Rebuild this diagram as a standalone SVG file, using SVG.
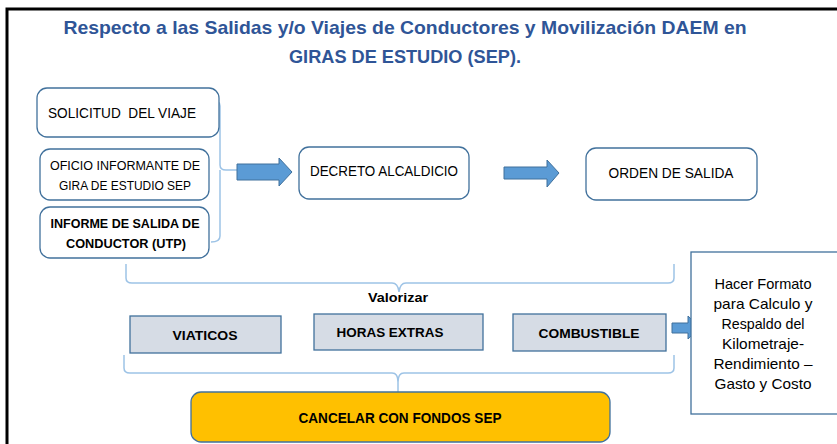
<svg xmlns="http://www.w3.org/2000/svg" width="837" height="444" viewBox="0 0 837 444">
<style>
.t{font-family:"Liberation Sans",Arial,sans-serif;fill:#000}
.title{font-family:"Liberation Sans",Arial,sans-serif;font-weight:bold;fill:#2F5597;font-size:19px}
.b{font-weight:bold}
.rb{fill:#fff;stroke:#41719C;stroke-width:1.3}
.sb{fill:#D6DCE5;stroke:#41719C;stroke-width:1.3}
.br{fill:none;stroke:#9DC3E6;stroke-width:1.5}
.ar{fill:#5B9BD5;stroke:#41719C;stroke-width:1}
</style>
<rect width="837" height="444" fill="#fff"/>
<polyline points="7,444 7,9 837,9" fill="none" stroke="#000" stroke-width="3"/>
<g id="title">
<text class="title" x="405" y="34" text-anchor="middle" textLength="683" lengthAdjust="spacingAndGlyphs">Respecto a las Salidas y/o Viajes de Conductores y Movilización DAEM en</text>
<text class="title" x="405" y="63" text-anchor="middle" textLength="232" lengthAdjust="spacingAndGlyphs">GIRAS DE ESTUDIO (SEP).</text>
</g>
<g id="connectors">
<path class="br" d="M211,100 Q220,100 220,106 L220,165 Q220,170 226,170 L237,170 M220,170 L220,236 Q220,242 211,242"/>
<path class="br" d="M126,264 L126,278 Q126,283 132,283 L392,283 Q398,283 399,292 Q400,283 406,283 L668,283 Q674,283 674,278 L674,264"/>
<path class="br" d="M124,355 L124,368 Q124,373 130,373 L392,373 Q398,373 398,382 L398,392 M398,382 Q398,373 404,373 L668,373 Q674,373 674,368 L674,355"/>
<polygon class="ar" points="237,164 279,164 279,158 292,172 279,186 279,180 237,180"/>
<polygon class="ar" points="504,167 547,167 547,160 559,173 547,187 547,179 504,179"/>
<polygon class="ar" points="672,323 688,323 688,316 700,327.5 688,339 688,333 672,333"/>
</g>
<g id="n-solicitud">
<rect class="rb" x="37" y="88" width="182" height="49" rx="10"/>
<text class="t" x="122" y="118" text-anchor="middle" font-size="14" textLength="148" lengthAdjust="spacingAndGlyphs">SOLICITUD&#160; DEL VIAJE</text>
</g>
<g id="n-oficio">
<rect class="rb" x="40" y="149" width="169" height="51" rx="10"/>
<text class="t" x="125" y="170" text-anchor="middle" font-size="12.5" textLength="150" lengthAdjust="spacingAndGlyphs">OFICIO INFORMANTE DE</text>
<text class="t" x="125" y="190" text-anchor="middle" font-size="12.5" textLength="132" lengthAdjust="spacingAndGlyphs">GIRA DE ESTUDIO SEP</text>
</g>
<g id="n-informe">
<rect class="rb" x="40" y="207" width="169" height="51" rx="10"/>
<text class="t b" x="125" y="228" text-anchor="middle" font-size="12.5" textLength="149" lengthAdjust="spacingAndGlyphs">INFORME DE SALIDA DE</text>
<text class="t b" x="126" y="248" text-anchor="middle" font-size="12.5" textLength="120" lengthAdjust="spacingAndGlyphs">CONDUCTOR (UTP)</text>
</g>
<g id="n-decreto">
<rect class="rb" x="299" y="147" width="170" height="52" rx="10"/>
<text class="t" x="384" y="176" text-anchor="middle" font-size="14" textLength="148" lengthAdjust="spacingAndGlyphs">DECRETO ALCALDICIO</text>
</g>
<g id="n-orden">
<rect class="rb" x="586" y="148" width="171" height="52" rx="10"/>
<text class="t" x="671" y="178" text-anchor="middle" font-size="14" textLength="125" lengthAdjust="spacingAndGlyphs">ORDEN DE SALIDA</text>
</g>
<g id="l-valorizar">
<text class="t b" x="398" y="302" text-anchor="middle" font-size="13" textLength="60" lengthAdjust="spacingAndGlyphs">Valorizar</text>
</g>
<g id="n-viaticos">
<rect class="sb" x="130" y="316" width="151" height="37"/>
<text class="t b" x="205" y="340" text-anchor="middle" font-size="13.5" textLength="65" lengthAdjust="spacingAndGlyphs">VIATICOS</text>
</g>
<g id="n-horas">
<rect class="sb" x="314" y="314" width="169" height="36"/>
<text class="t b" x="390" y="337" text-anchor="middle" font-size="13.5" textLength="107" lengthAdjust="spacingAndGlyphs">HORAS EXTRAS</text>
</g>
<g id="n-combustible">
<rect class="sb" x="513" y="314" width="153" height="37"/>
<text class="t b" x="589" y="338" text-anchor="middle" font-size="13.5" textLength="101" lengthAdjust="spacingAndGlyphs">COMBUSTIBLE</text>
</g>
<g id="n-formato">
<rect x="691" y="252" width="148" height="162" fill="#fff" stroke="#41719C" stroke-width="1.3"/>
<g class="t" font-size="15" text-anchor="middle">
<text x="763" y="289" textLength="97" lengthAdjust="spacingAndGlyphs">Hacer Formato</text>
<text x="763" y="309" textLength="99" lengthAdjust="spacingAndGlyphs">para Calculo y</text>
<text x="763" y="329" textLength="83" lengthAdjust="spacingAndGlyphs">Respaldo del</text>
<text x="763" y="349" textLength="82" lengthAdjust="spacingAndGlyphs">Kilometraje-</text>
<text x="763" y="369" textLength="99" lengthAdjust="spacingAndGlyphs">Rendimiento –</text>
<text x="763" y="389" textLength="97" lengthAdjust="spacingAndGlyphs">Gasto y Costo</text>
</g>
</g>
<g id="n-cancelar">
<rect x="191" y="392" width="419" height="50" rx="10" fill="#FFC000" stroke="#41719C" stroke-width="1.3"/>
<text class="t b" x="400" y="423" text-anchor="middle" font-size="14" textLength="203" lengthAdjust="spacingAndGlyphs">CANCELAR CON FONDOS SEP</text>
</g>
</svg>
